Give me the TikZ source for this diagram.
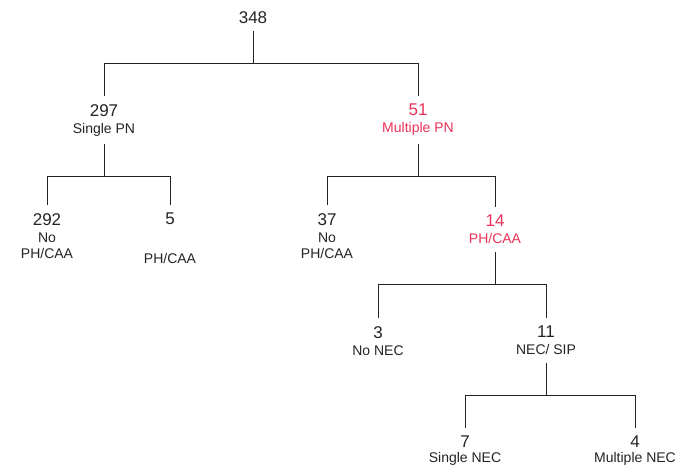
\documentclass[tikz,border=0pt]{standalone}
\usepackage{fontspec}
\setmainfont{Liberation Sans}
\usepackage{tikz}
\usetikzlibrary{positioning}

\definecolor{pnred}{RGB}{233,50,88}
\definecolor{inkgray}{RGB}{35,35,35}
\newcommand{\numfont}{\fontsize{17}{20}\selectfont}

\begin{document}
\begin{tikzpicture}[
    x=1pt, y=-1pt,
    font=\fontsize{14}{16}\selectfont,
    tally/.style={
        anchor=north,
        align=center,
        inner xsep=2pt,
        inner ysep=8pt,
        text=inkgray
    },
    hot/.style={
        tally,
        text=pnred
    },
    branch/.style={
        draw=inkgray,
        line width=1pt
    }
]
\useasboundingbox (0,0) rectangle (679,465);

% Root and first split
\node[tally] (root) at (253,3) {\numfont 348};

\node[tally] (single) at (104,96) {{\numfont 297}\\[1pt]Single PN};
\node[hot] (multi) at (418,96) {{\numfont 51}\\[1pt]Multiple PN};

% Second level
\node[tally] (noA) at (47,205) {{\numfont 292}\\[1pt]No\\PH/CAA};
\node[tally] (phA) at (170,205) {{\numfont 5}\\[23pt]PH/CAA};
\node[tally] (noB) at (327,205) {{\numfont 37}\\[1pt]No\\PH/CAA};
\node[hot] (phB) at (495,207) {{\numfont 14}\\[1pt]PH/CAA};

% NEC split
\node[tally] (nonec) at (378,318) {{\numfont 3}\\[1pt]No NEC};
\node[tally] (nec) at (546,318) {{\numfont 11}\\[1pt]NEC/ SIP};

\node[tally] (onenec) at (465,428) {{\numfont 7}\\[-1pt]Single NEC};
\node[tally] (manynec) at (635,428) {{\numfont 4}\\[-1pt]Multiple NEC};

% Elbow connectors
\draw[branch] (root.south) -- ++(0,32) -| (single.north);
\draw[branch] (root.south) -- ++(0,32) -| (multi.north);

\draw[branch] (single.south) -- ++(0,32) -| (noA.north);
\draw[branch] (single.south) -- ++(0,32) -| (phA.north);

\draw[branch] (multi.south) -- ++(0,32) -| (noB.north);
\draw[branch] (multi.south) -- ++(0,32) -| (phB.north);

\draw[branch] (phB.south) -- ++(0,32) -| (nonec.north);
\draw[branch] (phB.south) -- ++(0,32) -| (nec.north);

\draw[branch] (nec.south) -- ++(0,32) -| (onenec.north);
\draw[branch] (nec.south) -- ++(0,32) -| (manynec.north);

\end{tikzpicture}
\end{document}
